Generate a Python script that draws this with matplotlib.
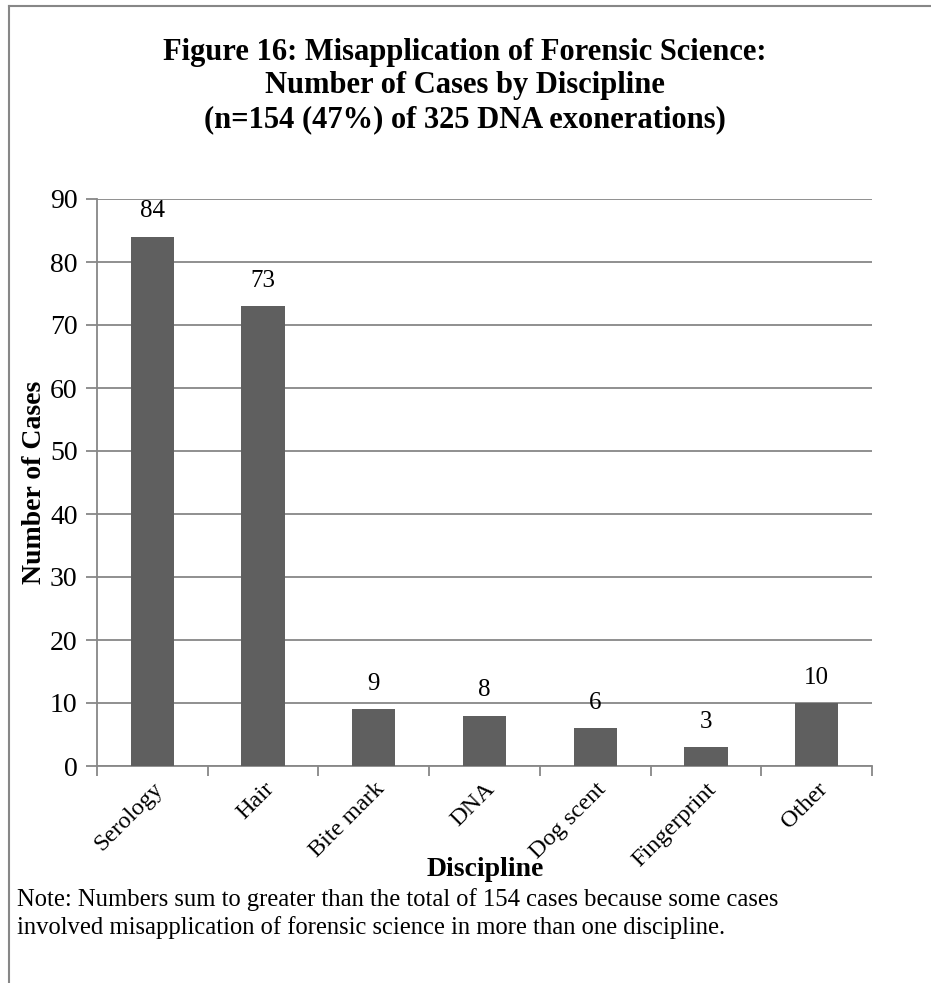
import matplotlib
matplotlib.use("Agg")
import matplotlib.pyplot as plt
from matplotlib.lines import Line2D
import numpy as np

categories = ["Serology", "Hair", "Bite mark", "DNA", "Dog scent", "Fingerprint", "Other"]
cases = [84, 73, 9, 8, 6, 3, 10]
y_ticks = [0, 10, 20, 30, 40, 50, 60, 70, 80, 90]

title = ("Figure 16: Misapplication of Forensic Science:\n"
         "Number of Cases by Discipline\n"
         "(n=154 (47%) of 325 DNA exonerations)")
note = ("Note: Numbers sum to greater than the total of 154 cases because some cases\n"
        "involved misapplication of forensic science in more than one discipline.")

plt.rcParams['font.family'] = ['Liberation Serif', 'DejaVu Serif']

W, H = 931, 983
fig = plt.figure(figsize=(W / 100, H / 100), dpi=100)
fig.patch.set_facecolor('white')

ax_l, ax_r, ax_t, ax_b = 97, 872, 199, 766
ax = fig.add_axes([ax_l / W, 1 - ax_b / H, (ax_r - ax_l) / W, (ax_b - ax_t) / H])

grid_c = '#878787'
bar_c = '#5f5f5f'

x = np.arange(len(categories))
ax.bar(x, cases, width=0.39, color=bar_c, zorder=3)
for xi, v in zip(x, cases):
    ax.text(xi, v + 2.3, str(v), ha='center', va='bottom', fontsize=18, color='black')

ax.set_xlim(-0.5, len(categories) - 0.5)
ax.set_ylim(0, 90)
ax.set_yticks(y_ticks)
ax.set_yticklabels([str(t) for t in y_ticks], fontsize=20)
ax.yaxis.grid(True, color=grid_c, linewidth=1.3, zorder=0)
ax.tick_params(axis='y', length=8, width=1.3, color=grid_c, pad=6)

ax.set_xticks(x)
ax.set_xticklabels(categories, rotation=45, ha='right', rotation_mode='anchor', fontsize=17.5)
ax.tick_params(axis='x', which='major', length=0, pad=9)
ax.set_xticks(np.arange(-0.5, len(categories), 1.0), minor=True)
ax.tick_params(axis='x', which='minor', length=7, width=1.3, color=grid_c)

for s in ['top', 'right']:
    ax.spines[s].set_visible(False)
for s in ['left', 'bottom']:
    ax.spines[s].set_color(grid_c)
    ax.spines[s].set_linewidth(1.3)

fig.text(35 / W, 1 - 482 / H, "Number of Cases", rotation=90, ha='center', va='center',
         fontsize=20, fontweight='bold')
fig.text(485 / W, 1 - 870 / H, "Discipline", ha='center', va='center',
         fontsize=20, fontweight='bold')

fig.text(465 / W, 1 - 38 / H, title, ha='center', va='top', fontsize=22,
         fontweight='bold', linespacing=1.2)
fig.text(17 / W, 1 - 888 / H, note, ha='left', va='top', fontsize=17.7, linespacing=1.3)

# frame lines
fig.add_artist(Line2D([9 / W, 9 / W], [0, 1 - 6 / H], transform=fig.transFigure,
                      color=grid_c, linewidth=1.5))
fig.add_artist(Line2D([9 / W, 1], [1 - 6 / H, 1 - 6 / H], transform=fig.transFigure,
                      color=grid_c, linewidth=1.5))

fig.savefig("out.png", dpi=100, facecolor='white')
